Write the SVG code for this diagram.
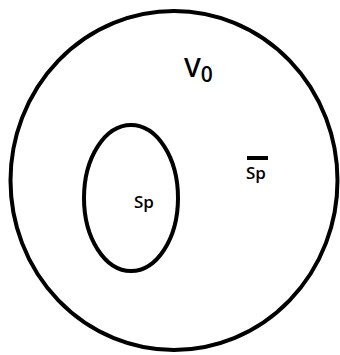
<svg xmlns="http://www.w3.org/2000/svg" width="340" height="355" viewBox="0 0 340 355">
<style>
.shape{fill:none;stroke:#000;stroke-width:4}
.lbl{font-family:"Open Sans","Liberation Sans",sans-serif;font-weight:600;fill:#000}
</style>
<rect width="340" height="355" fill="#fff"/>
<g id="universe">
<ellipse class="shape" cx="174" cy="180.5" rx="163.5" ry="169.5"/>
<text class="lbl" x="184" y="77" font-size="27">V<tspan font-size="21" dy="5">0</tspan></text>
</g>
<g id="complement">
<rect x="247" y="156" width="21" height="4" fill="#000"/>
<text class="lbl" x="246" y="179" font-size="17">Sp</text>
</g>
<g id="sp">
<ellipse class="shape" cx="131" cy="198" rx="47" ry="73"/>
<text class="lbl" x="134" y="208" font-size="17">Sp</text>
</g>
<g id="connectors"/>
</svg>
